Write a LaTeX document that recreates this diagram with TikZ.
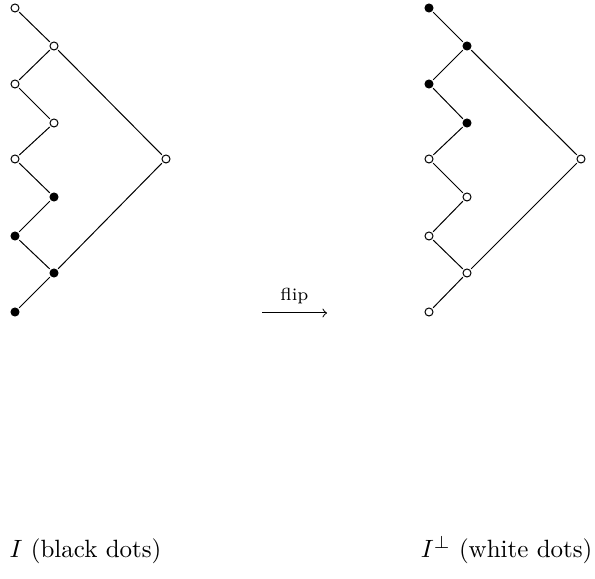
\documentclass[tikz,border=0pt]{standalone}
\begin{document}
\begin{tikzpicture}[x=0.4pt,y=-0.4pt,
  wd/.style={circle,draw,line width=0.4pt,minimum size=3.2pt,inner sep=0pt,outer sep=0.8pt,fill=white},
  bd/.style={circle,draw,fill=black,line width=0.4pt,minimum size=3.2pt,inner sep=0pt,outer sep=0.8pt},
  edge/.style={line width=0.4pt}]
\useasboundingbox (0,0) rectangle (595,579);
% left
\node[wd] (a1) at (15,8) {};
\node[wd] (a2) at (54,46) {};
\node[wd] (a3) at (15,84) {};
\node[wd] (a4) at (54,123) {};
\node[wd] (a5) at (15,159) {};
\node[wd] (a6) at (166,159) {};
\node[bd] (a7) at (54,197) {};
\node[bd] (a8) at (15,236) {};
\node[bd] (a9) at (54,273) {};
\node[bd] (a10) at (15,312) {};
\draw[edge] (a1)--(a2) (a2)--(a3) (a3)--(a4) (a4)--(a5) (a5)--(a7) (a7)--(a8) (a8)--(a9) (a9)--(a10) (a2)--(a6) (a6)--(a9);
% right
\node[bd] (b1) at (429,8) {};
\node[bd] (b2) at (467,46) {};
\node[bd] (b3) at (429,84) {};
\node[bd] (b4) at (467,123) {};
\node[wd] (b5) at (429,159) {};
\node[wd] (b6) at (581,159) {};
\node[wd] (b7) at (467,197) {};
\node[wd] (b8) at (429,236) {};
\node[wd] (b9) at (467,273) {};
\node[wd] (b10) at (429,312) {};
\draw[edge] (b1)--(b2) (b2)--(b3) (b3)--(b4) (b4)--(b5) (b5)--(b7) (b7)--(b8) (b8)--(b9) (b9)--(b10) (b2)--(b6) (b6)--(b9);
% arrow
\coordinate (f1) at (262,313);
\coordinate (f2) at (327,313);
\draw[edge,->] (f1) -- node[above=0pt,font=\scriptsize] (fl) {flip} (f2);
% labels
\node[anchor=base west,inner sep=0pt] (la) at (9,558) {$I$ (black dots)};
\node[anchor=base east,inner sep=0pt] (lb) at (593,558) {$I^\perp$ (white dots)};
\end{tikzpicture}
\end{document}
